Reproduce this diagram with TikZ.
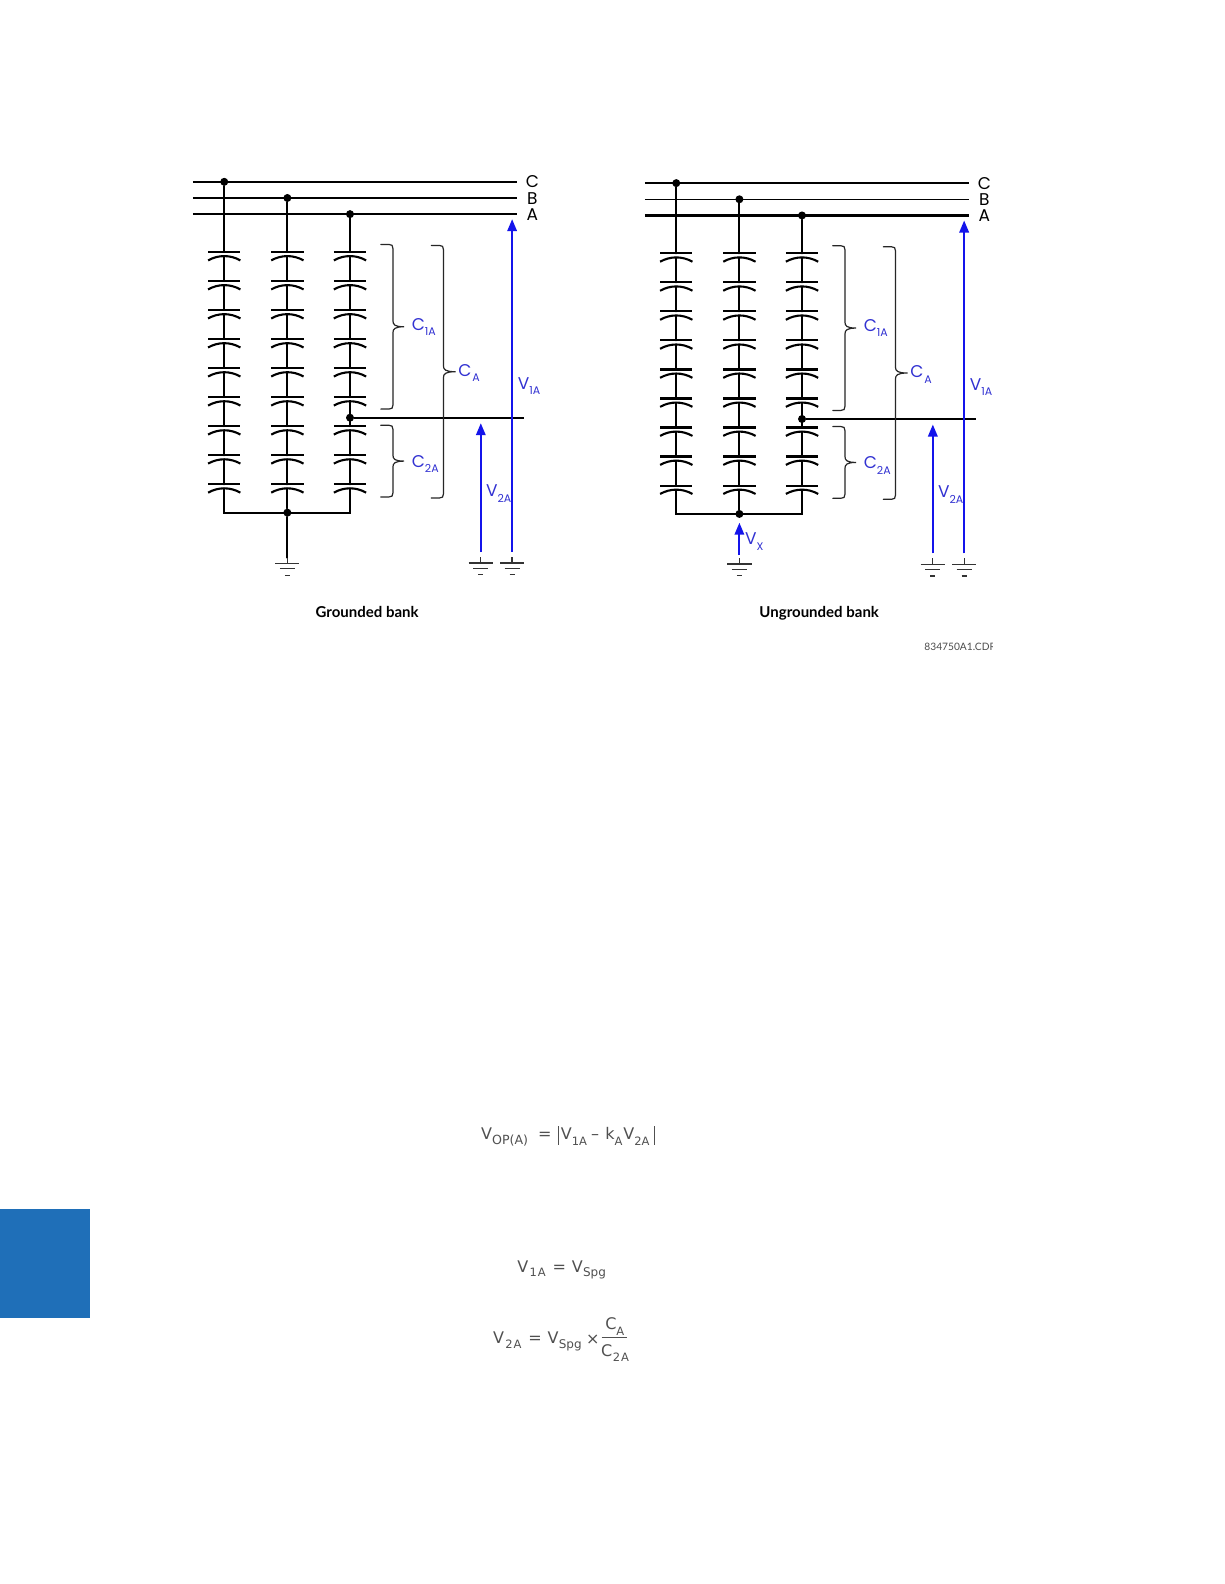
\documentclass[tikz,border=0pt]{standalone}
\usepackage{fontspec}
\setmainfont{Open Sans}
\newfontfamily\gefont{Poppins}
\newfontfamily\capfont{Lato}
\newfontfamily\eqfont{DejaVu Sans}
\usetikzlibrary{arrows.meta,calc}
\definecolor{volt}{RGB}{20,20,235}
\definecolor{lab}{RGB}{50,50,210}
\definecolor{side}{RGB}{31,111,184}
\definecolor{eqc}{RGB}{80,80,80}
\newcommand{\lsub}[2]{#1\raisebox{-0.32em}{\fontsize{11}{12}\selectfont #2}}
\newcommand{\esub}[2]{#1\raisebox{-0.4em}{\fontsize{11.5}{12}\selectfont #2}}
\tikzset{
  x=1.0101pt,y=-1.0101pt,
  wire/.style={line width=2.1pt,black,line cap=round},
  plate/.style={line width=2.1pt,black},
  busline/.style={line width=2.3pt,black},
  junction/.style={circle,fill=black,inner sep=0pt,minimum size=8pt},
  volt arrow/.style={line width=1.9pt,volt,-{Triangle[length=12pt,width=9.5pt]}},
  gnd/.style={line width=1.3pt,black!80},
  brace/.style={line width=1.2pt,black!85,line cap=round},
  blabel/.style={inner sep=0pt,text=lab,font=\gefont\fontsize{17}{18}\selectfont,anchor=west},
  phase/.style={inner sep=0pt,font=\gefont\fontsize{17}{19}\selectfont},
  caption/.style={inner sep=0pt,font=\capfont\bfseries\fontsize{15}{16}\selectfont},
  eq/.style={inner sep=0pt,text=eqc,font=\eqfont\fontsize{16}{17}\selectfont,anchor=base west},
}
\newcommand{\gndsym}[1]{
  \draw[gnd] (#1) -- ++(0,6);
  \draw[gnd] ($(#1)+(-12,6)$) -- ++(24,0);
  \draw[gnd] ($(#1)+(-7.5,11)$) -- ++(15,0);
  \draw[gnd] ($(#1)+(-2.5,17.5)$) -- ++(5,0);
}
\newcommand{\capcol}[1]{%
  \foreach \k in {0,...,8}{
    \pgfmathsetmacro{\py}{249.5+28.74*\k}
    \draw[plate] (#1-16,\py) -- (#1+16,\py);
    \draw[plate] (#1-16,\py+8.3) .. controls (#1-6,\py+2.6) and (#1+6,\py+2.6) .. (#1+16,\py+8.3);
  }
  \foreach \k in {0,...,7}{
    \pgfmathsetmacro{\py}{249.5+28.74*\k}
    \draw[wire] (#1,\py+4.2) -- (#1,\py+28.74);
  }
}
\newcommand{\bracketshape}[5]{
  \pgfmathsetmacro{\ymid}{(#4+#5)/2}
  \draw[brace] (#1,#4) -- (#2-4,#4) .. controls (#2-1,#4) and (#2,#4+1) .. (#2,#4+4)
     -- (#2,\ymid-6) .. controls (#2,\ymid-2) and (#2+2,\ymid) .. (#3,\ymid)
     .. controls (#2+2,\ymid) and (#2,\ymid+2) .. (#2,\ymid+6)
     -- (#2,#5-4) .. controls (#2,#5-1) and (#2-1,#5) .. (#2-4,#5) -- (#1,#5);
}
\newcommand{\bank}[3]{% #1 prefix #2 dx #3 dy
\begin{scope}[shift={(#2,#3)}]
  \coordinate (#1bcl) at (191,180); \coordinate (#1bcr) at (512,180);
  \coordinate (#1bbl) at (191,196); \coordinate (#1bbr) at (512,196);
  \coordinate (#1bal) at (191,212); \coordinate (#1bar) at (512,212);
  \draw[busline] (#1bcl) -- (#1bcr);
  \draw[busline,line width=\ifx#1R 1.3pt\else 2pt\fi] (#1bbl) -- (#1bbr);
  \draw[busline] (#1bal) -- (#1bar);
  \node[phase] (#1lc) at (527,180) {C};
  \node[phase] (#1lb) at (527,196.5) {B};
  \node[phase] (#1la) at (527,212.5) {A};
  \node[junction] (#1jc) at (222,180) {};
  \node[junction] (#1jb) at (284.5,196) {};
  \node[junction] (#1ja) at (346.5,212) {};
  \node[junction] (#1jt) at (346.5,413.5) {};
  \node[junction] (#1jn) at (284.5,507.5) {};
  \coordinate (#1c1) at (222,249.5); \coordinate (#1c2) at (284.5,249.5); \coordinate (#1c3) at (346.5,249.5);
  \draw[wire] (#1jc) -- (#1c1);
  \draw[wire] (#1jb) -- (#1c2);
  \draw[wire] (#1ja) -- (#1c3);
  \capcol{222}\capcol{284.5}\capcol{346.5}
  \coordinate (#1n1) at (222,507.5); \coordinate (#1n3) at (346.5,507.5);
  \draw[wire] (222,483.6) -- (#1n1) -- (#1n3) -- (346.5,483.6);
  \draw[wire] (#1jn) -- (284.5,483.6);
  \coordinate (#1tapr) at (519,413.5);
  \draw[busline] (#1jt) -- (#1tapr);
  \bracketshape{377}{389}{400}{242}{405}
  \bracketshape{427}{439}{451}{243}{493}
  \bracketshape{377}{389}{400}{421}{492}
  \node[blabel] (#1c1a) at (407.5,323.5) {\lsub{C}{1A}};
  \node[blabel] (#1ca) at (453.5,369.5) {\lsub{C\kern1pt}{A}};
  \node[blabel] (#1c2a) at (407.5,459.5) {\lsub{C}{2A}};
  \node[blabel] (#1v1a) at (512.5,382) {\lsub{V}{1A}};
  \node[blabel] (#1v2a) at (481,488.5) {\lsub{V}{2A}};
  \coordinate (#1g2) at (476,551.5); \coordinate (#1g1) at (507,551.5);
  \coordinate (#1a2b) at (476,546.5); \coordinate (#1a2t) at (476,419);
  \coordinate (#1a1b) at (507,546.5); \coordinate (#1a1t) at (507,217);
  \draw[volt arrow] (#1a2b) -- (#1a2t);
  \draw[volt arrow] (#1a1b) -- (#1a1t);
  \gndsym{#1g2}\gndsym{#1g1}
\end{scope}}
\begin{document}
\begin{tikzpicture}
\useasboundingbox (0,0) rectangle (1211.76,1568.16);
\fill[white] (0,0) rectangle (1211.76,1568.16);
\fill[side] (0,1197) rectangle (89,1305);
\bank{L}{0}{0}
\coordinate (Lgw) at (284.5,552);
\draw[wire] (Ljn) -- (Lgw);
\gndsym{Lgw}
\node[caption] (Lcap) at (363.5,606) {Grounded bank};
\begin{scope}
  \clip (600,100) rectangle (983,643.5);
  \bank{R}{447.5}{1.3}
  \coordinate (Rvt) at (732,517.5);
  \coordinate (Rvb) at (732,549.5);
  \coordinate (Rgv) at (732,552.5);
  \draw[volt arrow] (Rvb) -- (Rvt);
  \gndsym{Rgv}
  \node[blabel] (Rvx) at (737.5,536) {\lsub{V}{X}};
  \node[caption] (Rcap) at (811,607) {Ungrounded bank};
  \node[inner sep=0pt,anchor=west,text=black!70,font=\capfont\fontsize{10.2}{11}\selectfont] (Rcdr) at (915,640.5) {834750A1.CDR};
\end{scope}
% equation 1
\node[eq] (e1v) at (476,1128) {V};
\node[eq,font=\eqfont\fontsize{12.6}{13}\selectfont] (e1s) at (487,1133.5) {OP(A)};
\node[eq] (e1q) at (532.5,1128) {=};
\coordinate (bl1) at (553,1115); \coordinate (bl2) at (553,1133.5);
\coordinate (br1) at (647.5,1115); \coordinate (br2) at (647.5,1133.5);
\draw[eqc,line width=1pt] (bl1) -- (bl2);
\draw[eqc,line width=1pt] (br1) -- (br2);
\node[eq] (e1a) at (555,1128) {\esub{V}{1A}};
\node[eq] (e1m) at (585,1128) {–};
\node[eq] (e1b) at (599,1128) {\esub{k}{A}};
\node[eq] (e1c) at (617,1128) {\esub{V}{2A}};
% equation 2
\node[eq] (e2a) at (512,1259.5) {V};
\node[eq,font=\eqfont\fontsize{11.5}{12}\selectfont] (e2b) at (524,1264) {1\kern1pt A};
\node[eq] (e2c) at (547,1259.5) {=};
\node[eq] (e2d) at (566,1259.5) {V};
\node[eq,font=\eqfont\fontsize{12}{13}\selectfont] (e2e) at (577,1264) {Spg};
% equation 3
\node[eq] (e3a) at (488,1330.5) {V};
\node[eq,font=\eqfont\fontsize{11.5}{12}\selectfont] (e3b) at (500,1335) {2\kern1pt A};
\node[eq] (e3c) at (523,1330.5) {=};
\node[eq] (e3d) at (542,1330.5) {V};
\node[eq,font=\eqfont\fontsize{12}{13}\selectfont] (e3e) at (553,1335) {Spg};
\node[eq] (e3f) at (580,1331) {×};
\node[eq] (e3n) at (599,1316) {\esub{C}{A}};
\node[eq] (e3o) at (595,1343) {C};
\node[eq,font=\eqfont\fontsize{11.5}{12}\selectfont] (e3p) at (606.5,1347.5) {2\kern1pt A};
\coordinate (fl) at (595.5,1324.5); \coordinate (fr) at (620.5,1324.5);
\draw[eqc,line width=1pt] (fl) -- (fr);
\end{tikzpicture}
\end{document}
